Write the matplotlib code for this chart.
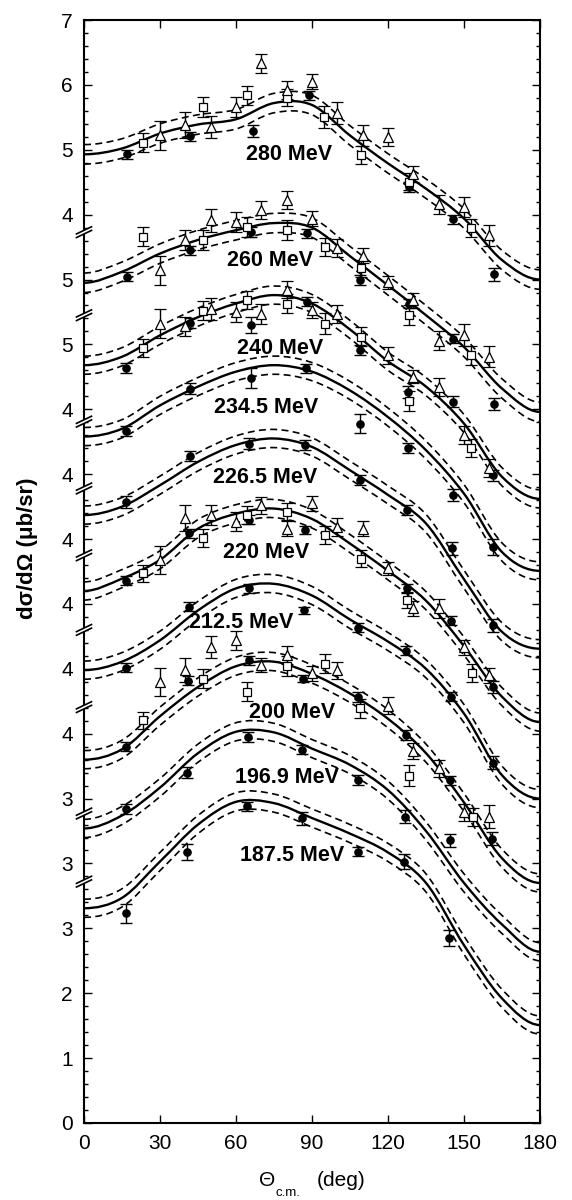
import numpy as np
import matplotlib
matplotlib.use("Agg")
import matplotlib.pyplot as plt
from matplotlib.path import Path
from matplotlib.patches import PathPatch
from matplotlib.ticker import MultipleLocator, FixedLocator, FuncFormatter

plt.rcParams['font.family'] = ['Liberation Sans', 'DejaVu Sans']

# ---------------------------------------------------------------------------
# Energies (bottom to top) and the vertical shift of each panel on the stack
energies = ['187.5', '196.9', '200', '212.5', '220', '226.5', '234.5', '240', '260', '280']
stack_offsets = [0, 1, 2, 3, 4, 5, 6, 7, 8, 10]

# Theory curves, d(sigma)/d(Omega) in mub/sr at theta = 0, 15, ..., 180 deg
theta_knots = [0, 15, 30, 45, 60, 75, 90, 105, 120, 135, 150, 165, 180]
theory_1875 = [3.31, 3.47, 4.03, 4.60, 4.95, 4.93, 4.70, 4.46, 4.17, 3.70, 2.74, 1.92, 1.51]
theory_1969 = [3.54, 3.74, 4.17, 4.70, 5.03, 5.02, 4.77, 4.52, 4.13, 3.50, 2.70, 2.06, 1.64]
theory_2000 = [3.60, 3.76, 4.27, 4.72, 5.04, 5.11, 4.92, 4.62, 4.23, 3.70, 2.94, 2.08, 1.70]
theory_2125 = [3.98, 4.11, 4.44, 4.90, 5.24, 5.31, 5.13, 4.76, 4.42, 4.00, 3.31, 2.36, 2.00]
theory_2200 = [4.20, 4.39, 4.68, 5.16, 5.39, 5.47, 5.31, 4.93, 4.51, 4.05, 3.35, 2.57, 2.18]
theory_2265 = [4.37, 4.50, 4.83, 5.19, 5.45, 5.55, 5.42, 5.06, 4.68, 4.24, 3.38, 2.57, 2.31]
theory_2345 = [4.58, 4.70, 5.06, 5.35, 5.58, 5.68, 5.58, 5.29, 4.88, 4.37, 3.70, 2.80, 2.51]
theory_2400 = [4.68, 4.81, 5.14, 5.42, 5.63, 5.76, 5.63, 5.23, 4.74, 4.35, 3.78, 2.96, 2.62]
theory_2600 = [4.95, 5.12, 5.40, 5.61, 5.76, 5.87, 5.80, 5.36, 4.91, 4.45, 3.96, 3.32, 2.96]
theory_2800 = [4.93, 5.02, 5.25, 5.39, 5.47, 5.72, 5.69, 5.22, 4.79, 4.40, 3.94, 3.30, 3.00]
# half-width of the theoretical uncertainty band
band_halfwidth = [0.14, 0.14, 0.14, 0.14, 0.14, 0.14, 0.14, 0.14, 0.15, 0.15]

# Measured points: filled circles
circ_th_1875 = [16.5, 40.8, 64.5, 86.0, 108.0, 126.5, 144.2]
circ_xs_1875 = [3.23, 4.18, 4.88, 4.70, 4.18, 4.03, 2.85]
circ_er_1875 = [0.14, 0.12, 0.07, 0.10, 0.07, 0.12, 0.12]

circ_th_1969 = [16.5, 40.8, 64.6, 86.0, 108.0, 126.8, 144.5]
circ_xs_1969 = [3.84, 4.40, 4.95, 4.75, 4.29, 3.72, 3.36]
circ_er_1969 = [0.08, 0.08, 0.08, 0.07, 0.08, 0.10, 0.10]

circ_th_2000 = [16.5, 41.0, 65.0, 86.5, 108.3, 127.0, 144.6, 161.0]
circ_xs_2000 = [3.80, 4.82, 5.13, 4.85, 4.57, 3.98, 3.28, 2.38]
circ_er_2000 = [0.07, 0.07, 0.07, 0.06, 0.08, 0.07, 0.07, 0.10]

circ_th_2125 = [16.7, 41.5, 65.0, 87.0, 108.3, 127.0, 144.7, 161.5]
circ_xs_2125 = [4.02, 4.96, 5.24, 4.90, 4.63, 4.28, 3.57, 2.55]
circ_er_2125 = [0.07, 0.07, 0.07, 0.06, 0.07, 0.07, 0.07, 0.10]

circ_th_2200 = [16.7, 41.5, 65.0, 87.4, 127.5, 144.8, 161.3]
circ_xs_2200 = [4.36, 5.09, 5.30, 5.14, 4.24, 3.74, 2.72]
circ_er_2200 = [0.07, 0.07, 0.07, 0.06, 0.07, 0.07, 0.09]

circ_th_2265 = [16.7, 41.8, 65.3, 87.4, 109.0, 127.6, 145.4, 161.3]
circ_xs_2265 = [4.57, 5.28, 5.47, 5.45, 4.91, 4.45, 3.86, 2.67]
circ_er_2265 = [0.09, 0.07, 0.08, 0.07, 0.08, 0.08, 0.10, 0.10]

circ_th_2345 = [16.7, 41.8, 65.8, 87.6, 109.0, 128.0, 145.5, 161.5]
circ_xs_2345 = [4.67, 5.32, 5.48, 5.63, 4.78, 4.40, 3.68, 2.88]
circ_er_2345 = [0.08, 0.08, 0.15, 0.07, 0.14, 0.08, 0.09, 0.12]

circ_th_2400 = [16.7, 41.8, 65.8, 88.0, 109.0, 128.0, 145.5, 161.5]
circ_xs_2400 = [4.64, 5.33, 5.30, 5.66, 4.91, 4.27, 4.12, 2.98]
circ_er_2400 = [0.08, 0.08, 0.13, 0.07, 0.08, 0.09, 0.08, 0.09]

circ_th_2600 = [16.8, 41.8, 66.0, 88.0, 109.0, 128.4, 145.5, 161.7]
circ_xs_2600 = [5.04, 5.45, 5.73, 5.71, 4.99, 4.63, 4.09, 3.08]
circ_er_2600 = [0.07, 0.07, 0.08, 0.07, 0.08, 0.07, 0.07, 0.09]

circ_th_2800 = [16.8, 41.8, 66.8, 89.0, 128.4, 145.5, 161.9]
circ_xs_2800 = [4.93, 5.21, 5.29, 5.84, 4.43, 3.93, 3.08]
circ_er_2800 = [0.07, 0.07, 0.09, 0.07, 0.08, 0.07, 0.10]

# Measured points: open squares
sq_th_2000 = [23.2, 47.0, 64.5, 80.0, 95.0, 109.0, 128.2, 153.5]
sq_xs_2000 = [4.21, 4.85, 4.65, 5.04, 5.08, 4.39, 3.35, 2.71]
sq_er_2000 = [0.13, 0.14, 0.14, 0.15, 0.15, 0.15, 0.16, 0.14]

sq_th_2200 = [23.2, 47.0, 64.5, 80.0, 95.0, 109.2, 127.6, 153.0]
sq_xs_2200 = [4.47, 5.01, 5.37, 5.42, 5.06, 4.70, 4.06, 2.94]
sq_er_2200 = [0.13, 0.14, 0.14, 0.13, 0.14, 0.13, 0.13, 0.14]

sq_th_2400 = [23.4, 47.1, 64.5, 80.0, 95.0, 109.2, 128.4, 152.7]
sq_xs_2400 = [4.94, 5.52, 5.68, 5.63, 5.32, 5.12, 4.13, 3.40]
sq_er_2400 = [0.14, 0.15, 0.14, 0.15, 0.16, 0.15, 0.15, 0.14]

sq_th_2600 = [23.2, 47.1, 64.5, 80.0, 95.0, 109.2, 128.4, 152.7]
sq_xs_2600 = [5.66, 5.61, 5.81, 5.76, 5.50, 5.17, 4.45, 3.83]
sq_er_2600 = [0.15, 0.15, 0.15, 0.15, 0.14, 0.13, 0.15, 0.14]

sq_th_2800 = [23.2, 47.1, 64.5, 80.3, 94.9, 109.2, 128.4, 152.7]
sq_xs_2800 = [5.11, 5.66, 5.84, 5.80, 5.51, 4.92, 4.51, 3.80]
sq_er_2800 = [0.15, 0.15, 0.15, 0.13, 0.17, 0.14, 0.13, 0.14]

# Measured points: open triangles
tri_th_2000 = [30, 40, 50, 60, 70, 80, 90, 100, 120, 130, 140, 150, 160]
tri_xs_2000 = [4.80, 4.98, 5.34, 5.44, 5.06, 5.21, 4.93, 4.98, 4.43, 3.73, 3.47, 2.79, 2.72]
tri_er_2000 = [0.22, 0.18, 0.17, 0.15, 0.11, 0.14, 0.12, 0.13, 0.13, 0.12, 0.13, 0.13, 0.18]

tri_th_2200 = [30, 40, 50, 60, 70, 80, 90, 100, 110, 120, 130, 140, 150, 160]
tri_xs_2200 = [4.68, 5.32, 5.37, 5.27, 5.52, 5.16, 5.55, 5.19, 5.16, 4.55, 3.93, 3.93, 3.33, 2.90]
tri_er_2200 = [0.22, 0.20, 0.15, 0.15, 0.13, 0.12, 0.12, 0.14, 0.12, 0.10, 0.12, 0.14, 0.12, 0.12]

tri_th_2400 = [30, 40, 50, 60, 70, 80, 90, 100, 120, 130, 140, 150, 160]
tri_xs_2400 = [5.32, 5.28, 5.55, 5.50, 5.47, 5.84, 5.53, 5.47, 4.83, 4.50, 4.35, 3.60, 3.09]
tri_er_2400 = [0.22, 0.15, 0.17, 0.15, 0.15, 0.13, 0.12, 0.14, 0.13, 0.10, 0.14, 0.14, 0.14]

tri_th_2600 = [30, 40, 50, 60, 70, 80, 90, 100, 110, 120, 130, 140, 150, 160]
tri_xs_2600 = [5.14, 5.61, 5.91, 5.89, 6.07, 6.22, 5.94, 5.48, 5.37, 4.96, 4.68, 4.06, 4.14, 3.81]
tri_er_2600 = [0.22, 0.16, 0.17, 0.15, 0.14, 0.14, 0.12, 0.14, 0.12, 0.10, 0.12, 0.15, 0.17, 0.16]

tri_th_2800 = [30, 40, 50, 60, 70, 80, 90, 100, 110, 120, 130, 140, 150, 160]
tri_xs_2800 = [5.22, 5.38, 5.35, 5.66, 6.33, 5.92, 6.05, 5.56, 5.22, 5.20, 4.63, 4.16, 4.12, 3.68]
tri_er_2800 = [0.23, 0.20, 0.17, 0.15, 0.14, 0.14, 0.12, 0.17, 0.16, 0.14, 0.12, 0.15, 0.15, 0.16]

# ---------------------------------------------------------------------------
# Layout of the stacked axis: where each panel's axis is broken, and where
# the energy labels sit (theta, stacked y)
break_positions = [3.72, 4.77, 6.41, 7.60, 8.75, 9.78, 10.81, 12.45, 13.73]
label_positions = [(82, 4.13), (80, 5.33), (82, 6.32), (62, 7.72), (71.8, 8.80),
                   (71.5, 9.95), (71.8, 11.02), (77.4, 11.94), (73.4, 13.30), (81, 14.92)]

theories = [theory_1875, theory_1969, theory_2000, theory_2125, theory_2200,
            theory_2265, theory_2345, theory_2400, theory_2600, theory_2800]
circles = [(circ_th_1875, circ_xs_1875, circ_er_1875), (circ_th_1969, circ_xs_1969, circ_er_1969),
           (circ_th_2000, circ_xs_2000, circ_er_2000), (circ_th_2125, circ_xs_2125, circ_er_2125),
           (circ_th_2200, circ_xs_2200, circ_er_2200), (circ_th_2265, circ_xs_2265, circ_er_2265),
           (circ_th_2345, circ_xs_2345, circ_er_2345), (circ_th_2400, circ_xs_2400, circ_er_2400),
           (circ_th_2600, circ_xs_2600, circ_er_2600), (circ_th_2800, circ_xs_2800, circ_er_2800)]
squares = {'200': (sq_th_2000, sq_xs_2000, sq_er_2000), '220': (sq_th_2200, sq_xs_2200, sq_er_2200),
           '240': (sq_th_2400, sq_xs_2400, sq_er_2400), '260': (sq_th_2600, sq_xs_2600, sq_er_2600),
           '280': (sq_th_2800, sq_xs_2800, sq_er_2800)}
triangles = {'200': (tri_th_2000, tri_xs_2000, tri_er_2000), '220': (tri_th_2200, tri_xs_2200, tri_er_2200),
             '240': (tri_th_2400, tri_xs_2400, tri_er_2400), '260': (tri_th_2600, tri_xs_2600, tri_er_2600),
             '280': (tri_th_2800, tri_xs_2800, tri_er_2800)}


def smooth_path(x, y):
    """Cubic (Catmull-Rom) Bezier path through the knots, flat at both ends."""
    x = np.asarray(x, float)
    y = np.asarray(y, float)
    xp = np.concatenate([[2 * x[0] - x[1]], x, [2 * x[-1] - x[-2]]])
    yp = np.concatenate([[y[1]], y, [y[-2]]])
    pts = np.column_stack([xp, yp])
    verts = [tuple(pts[1])]
    codes = [Path.MOVETO]
    for i in range(1, len(pts) - 2):
        p0, p1, p2, p3 = pts[i - 1], pts[i], pts[i + 1], pts[i + 2]
        c1 = p1 + (p2 - p0) / 6.0
        c2 = p2 - (p3 - p1) / 6.0
        verts += [tuple(c1), tuple(c2), tuple(p2)]
        codes += [Path.CURVE4] * 3
    return Path(verts, codes)


fig = plt.figure(figsize=(5.72, 12.0), dpi=100)
ax = fig.add_axes([84 / 572, 1 - 1123 / 1200, (540 - 84) / 572, (1123 - 20) / 1200])

ax.set_xlim(0, 180)
ax.set_ylim(0, 17)

ebar_kw = dict(color='black', ecolor='black', elinewidth=1.0, capsize=4.0,
               capthick=1.0, linestyle='none', zorder=4)

th = np.asarray(theta_knots, float)
for i, name in enumerate(energies):
    off = stack_offsets[i]
    yc = np.asarray(theories[i], float) + off
    ax.add_patch(PathPatch(smooth_path(th, yc), fill=False, edgecolor='black',
                           linewidth=1.7, zorder=2, capstyle='round'))
    for sgn in (1, -1):
        ax.add_patch(PathPatch(smooth_path(th, yc + sgn * band_halfwidth[i]), fill=False,
                               edgecolor='black', linewidth=1.2, linestyle=(0, (4.2, 2.6)),
                               zorder=2))

    cth, cxs, cer = circles[i]
    ax.errorbar(cth, np.asarray(cxs) + off, yerr=cer, fmt='o', markersize=5.2,
                markerfacecolor='black', markeredgecolor='black', **ebar_kw)
    if name in squares:
        sth, sxs, ser = squares[name]
        ax.errorbar(sth, np.asarray(sxs) + off, yerr=ser, fmt='s', markersize=5.5,
                    markerfacecolor='white', markeredgecolor='black', markeredgewidth=0.9,
                    **ebar_kw)
    if name in triangles:
        tth, txs, ter = triangles[name]
        ax.errorbar(tth, np.asarray(txs) + off, yerr=ter, fmt='^', markersize=6.5,
                    markerfacecolor='white', markeredgecolor='black', markeredgewidth=0.9,
                    **ebar_kw)

    lx, ly = label_positions[i]
    ax.text(lx, ly, f'{name} MeV', ha='center', va='center', fontsize=15.5,
            fontweight='bold', zorder=6)


# y tick labels show each panel's own scale
def panel_label(v, pos):
    idx = int(np.searchsorted(break_positions, v))
    return f'{int(round(v - stack_offsets[idx]))}'


ax.yaxis.set_major_locator(MultipleLocator(1))
ax.yaxis.set_minor_locator(MultipleLocator(0.2))
ax.yaxis.set_major_formatter(FuncFormatter(panel_label))
ax.xaxis.set_major_locator(FixedLocator([0, 30, 60, 90, 120, 150, 180]))

ax.tick_params(axis='both', which='both', direction='in', top=True, right=True, width=1.0)
ax.tick_params(axis='y', which='major', length=6.0, labelsize=15, pad=8)
ax.tick_params(axis='y', which='minor', length=3.0)
ax.tick_params(axis='x', which='major', length=5.5, labelsize=15, pad=8)
for sp in ax.spines.values():
    sp.set_linewidth(1.5)

# axis breaks: a pair of slanted strokes over the left spine
trans = ax.get_yaxis_transform()
dx, dy, gap = 0.0165, 0.055, 0.028
for yb in break_positions:
    xs = [-dx, dx, dx, -dx]
    ys = [yb - gap - dy, yb - gap + dy, yb + gap + dy, yb + gap - dy]
    ax.fill(xs, ys, color='white', transform=trans, clip_on=False, zorder=5, linewidth=0)
    ax.plot([-dx, dx], [yb - gap - dy, yb - gap + dy], color='black', lw=1.2,
            transform=trans, clip_on=False, zorder=6)
    ax.plot([-dx, dx], [yb + gap - dy, yb + gap + dy], color='black', lw=1.2,
            transform=trans, clip_on=False, zorder=6)

# axis titles
fig.text(28 / 572, 1 - 548 / 1200, 'dσ/dΩ (μb/sr)', rotation=90, ha='center',
         va='center', fontsize=16, fontweight='bold')
fig.text(267 / 572, 1 - 1180 / 1200, 'Θ', ha='center', va='center', fontsize=15)
fig.text(288 / 572, 1 - 1193 / 1200, 'c.m.', ha='center', va='center', fontsize=9.5)
fig.text(341 / 572, 1 - 1180 / 1200, '(deg)', ha='center', va='center', fontsize=15)

fig.savefig('out.png', dpi=100)
